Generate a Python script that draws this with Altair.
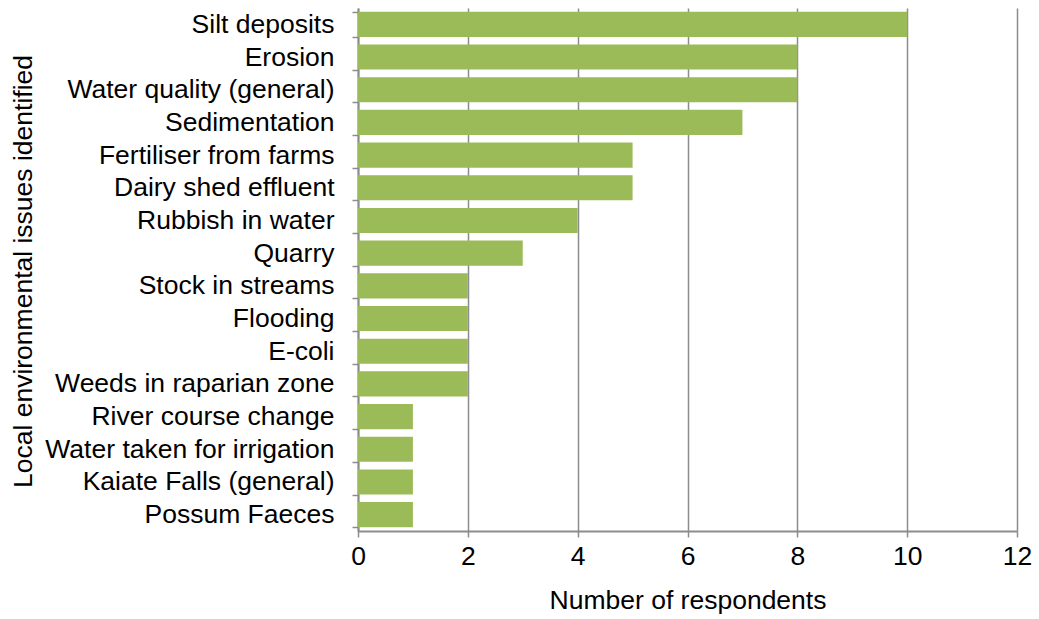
import altair as alt
import pandas as pd

issues = [
    "Silt deposits", "Erosion", "Water quality (general)", "Sedimentation",
    "Fertiliser from farms", "Dairy shed effluent", "Rubbish in water", "Quarry",
    "Stock in streams", "Flooding", "E-coli", "Weeds in raparian zone",
    "River course change", "Water taken for irrigation", "Kaiate Falls (general)",
    "Possum Faeces",
]
counts = [10, 8, 8, 7, 5, 5, 4, 3, 2, 2, 2, 2, 1, 1, 1, 1]
x_ticks = [0, 2, 4, 6, 8, 10, 12]

df = pd.DataFrame({"issue": issues, "count": counts})

FONT = "Liberation Sans"
GRID = "#8c8c8c"
FS = 26.5

chart = alt.Chart(df).mark_bar(color="#9BBB59").encode(
    x=alt.X("count:Q", title="Number of respondents",
            scale=alt.Scale(domain=[0, 12], nice=False),
            axis=alt.Axis(values=x_ticks, grid=True, gridColor=GRID, gridWidth=1.5,
                          domainColor=GRID, domainWidth=2, tickColor=GRID, tickWidth=1.5,
                          tickSize=6, labelFontSize=FS, labelFont=FONT, labelColor="black",
                          labelPadding=6, labelFlush=False, titleFontSize=FS, titleFont=FONT,
                          titleFontWeight="normal", titleColor="black", titlePadding=18)),
    y=alt.Y("issue:N", sort=issues, title="Local environmental issues identified",
            scale=alt.Scale(paddingInner=0.23, paddingOuter=0.115),
            axis=alt.Axis(tickBand="extent", grid=False, domainColor=GRID, domainWidth=2,
                          tickColor=GRID, tickWidth=1.5, tickSize=6, labelFontSize=FS,
                          labelFont=FONT, labelColor="black", labelPadding=18,
                          labelLimit=400, titleFontSize=FS, titleFont=FONT,
                          titleFontWeight="normal", titleColor="black",
                          titleX=-335, titleY=263, titleAlign="center",
                          titleBaseline="middle", titleAngle=270)),
).properties(
    width=659, height=523,
    autosize=alt.AutoSizeParams(type="none"),
    padding={"left": 358, "top": 8, "right": 22, "bottom": 88},
).configure_view(stroke=None)

chart.save("out.html", embed_options={"renderer": "svg", "actions": False})
